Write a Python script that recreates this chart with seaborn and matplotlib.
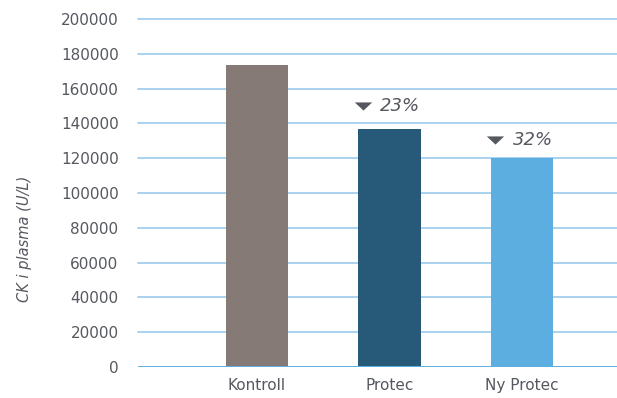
import matplotlib
matplotlib.use("Agg")
import matplotlib.pyplot as plt
import seaborn as sns
import pandas as pd

categories = ["Kontroll", "Protec", "Ny Protec"]
values = [173500, 137000, 120000]
colors = ["#857a75", "#275a78", "#5daee0"]
reductions = [None, "23%", "32%"]
label_y = [None, 150300, 130500]
yticks = [0, 20000, 40000, 60000, 80000, 100000, 120000, 140000, 160000, 180000, 200000]

sns.set_theme(style="white")
plt.rcParams['font.family'] = ['DejaVu Sans']

df = pd.DataFrame({"Gruppe": categories, "CK": values})

fig = plt.figure(figsize=(6.17, 3.98), dpi=100)
ax = fig.add_axes([0.2237, 0.078, 0.7763, 0.874])

sns.barplot(data=df, x="Gruppe", y="CK", hue="Gruppe", palette=colors,
            order=categories, hue_order=categories, width=0.47, legend=False,
            ax=ax, zorder=3, saturation=1, linewidth=0)

ax.set_ylim(0, 200000)
ax.set_xlim(-0.897, 2.718)
ax.set_yticks(yticks)
ax.set_yticklabels([str(t) for t in yticks])
for t in yticks[1:]:
    ax.axhline(t, color="#a3cfee", lw=1.3, zorder=1, clip_on=False)
ax.axhline(0, color="#5daee0", lw=1.4, zorder=4)

for s in ax.spines.values():
    s.set_visible(False)
ax.tick_params(axis="y", length=0, pad=14, labelsize=11, labelcolor="#55585f")
ax.tick_params(axis="x", length=0, pad=8, labelsize=11, labelcolor="#55585f")
ax.set_xlabel("")
ax.set_ylabel("CK i plasma (U/L)", fontsize=10.5, style="italic", color="#55585f")
ax.yaxis.set_label_coords(-0.221, 0.368)

tri = [(-1.0, 0.47), (1.0, 0.47), (0.0, -0.47), (-1.0, 0.47)]
for i, (r, ly) in enumerate(zip(reductions, label_y)):
    if r is None:
        continue
    ax.plot([i - 0.2], [ly], marker=tri, markersize=12.5, color="#55585f",
            zorder=5, linestyle="none", markeredgewidth=0)
    ax.text(i - 0.068, ly, r, ha="left", va="center", fontsize=13,
            style="italic", color="#55585f")

fig.savefig("out.png", dpi=100)
